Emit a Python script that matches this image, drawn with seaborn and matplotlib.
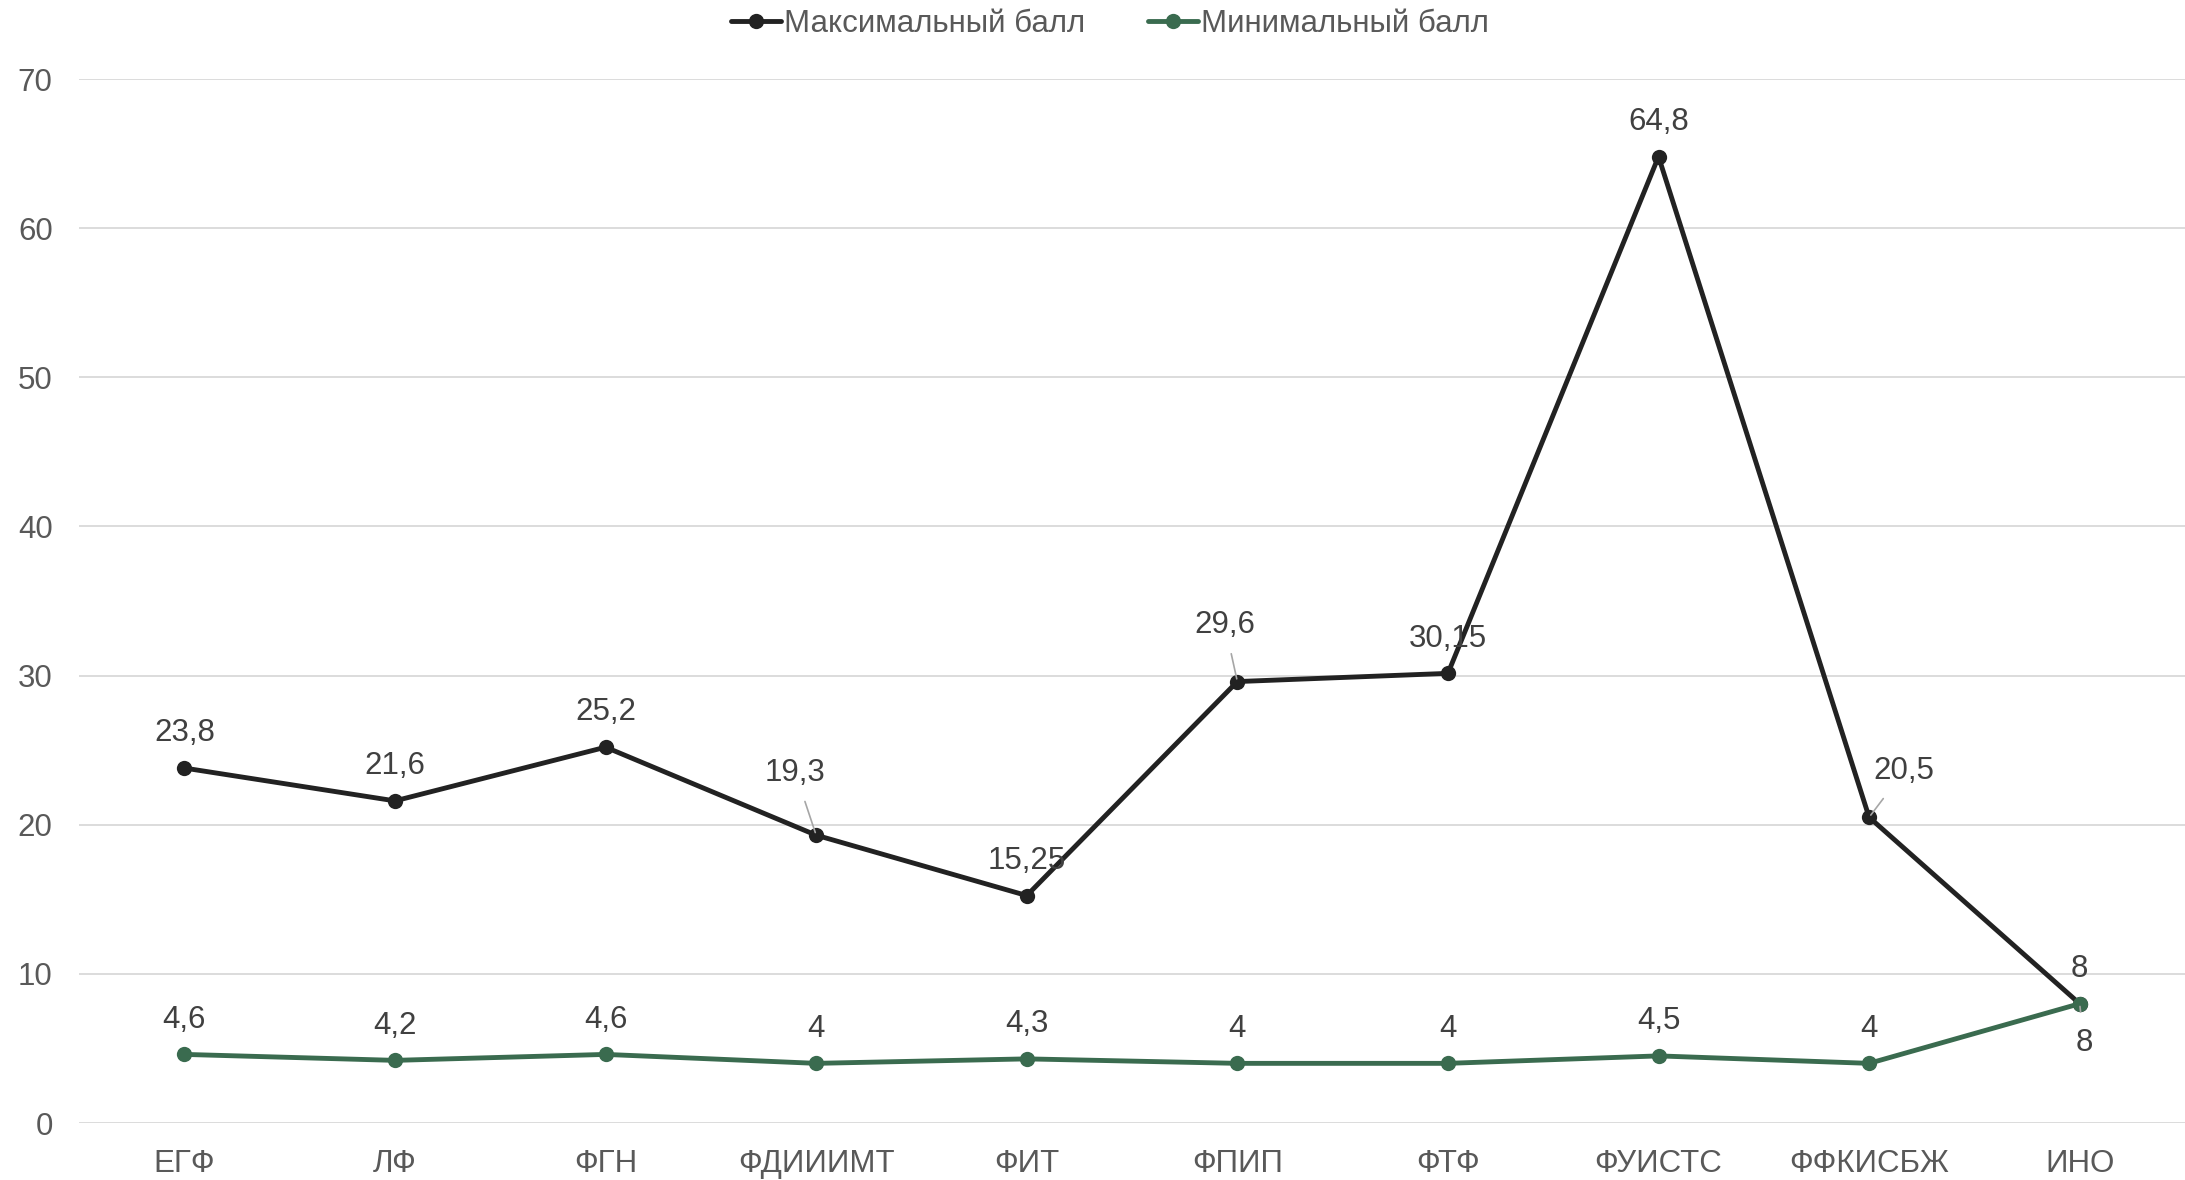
import numpy as np
import pandas as pd
import matplotlib
matplotlib.use("Agg")
import matplotlib.pyplot as plt
import seaborn as sns

# data
faculties = ["ЕГФ", "ЛФ", "ФГН", "ФДИИИМТ", "ФИТ", "ФПИП", "ФТФ", "ФУИСТС", "ФФКИСБЖ", "ИНО"]
max_score = [23.8, 21.6, 25.2, 19.3, 15.25, 29.6, 30.15, 64.8, 20.5, 8]
min_score = [4.6, 4.2, 4.6, 4, 4.3, 4, 4, 4.5, 4, 8]
series_names = ["Максимальный балл", "Минимальный балл"]
y_ticks = [0, 10, 20, 30, 40, 50, 60, 70]

sns.set_style("white")
plt.rcParams['font.family'] = ['Liberation Sans', 'DejaVu Sans']

df = pd.DataFrame({
    "Факультет": faculties * 2,
    "Балл": max_score + min_score,
    "Серия": [series_names[0]] * len(faculties) + [series_names[1]] * len(faculties),
})

colors = {series_names[0]: "#222222", series_names[1]: "#3a6b4f"}
FS = 22.5

fig = plt.figure(figsize=(21.85, 11.8), dpi=100)
ax = fig.add_axes([0.0362, 0.0483, 0.9638, 0.8847])

for name in series_names:
    sub = df[df["Серия"] == name]
    sns.lineplot(data=sub, x="Факультет", y="Балл", ax=ax, color=colors[name],
                 marker="o", markersize=11, markeredgewidth=0, linewidth=3.5,
                 sort=False, label=name, legend=False)

ax.set_xlim(-0.5, len(faculties) - 0.5)
ax.set_ylim(0, 70)
ax.set_yticks(y_ticks)
ax.set_xlabel("")
ax.set_ylabel("")
for s in ax.spines.values():
    s.set_visible(False)
ax.grid(axis="y", color="#d9d9d9", linewidth=1.3)
ax.set_axisbelow(True)
ax.tick_params(axis="both", length=0, labelsize=FS, labelcolor="#595959")
ax.tick_params(axis="y", pad=19)
ax.tick_params(axis="x", pad=19)

def fmt(v):
    return ("%g" % v).replace(".", ",")

# label offsets in points (default: straight above)
max_offsets = {3: (-15, -45), 5: (-9, -41), 8: (25, -33)}
min_offsets = {9: (3, 28)}

for i, v in enumerate(max_score):
    dx, dy = max_offsets.get(i, (0, -25))
    leader = i in max_offsets
    ax.annotate(fmt(v), (i, v), xytext=(dx, -dy), textcoords="offset points",
                ha="center", va="center", fontsize=FS, color="#404040",
                arrowprops=dict(arrowstyle="-", color="#a6a6a6", lw=1.2,
                                shrinkA=8, shrinkB=2) if leader else None)
for i, v in enumerate(min_score):
    dx, dy = min_offsets.get(i, (0, -25))
    leader = i in min_offsets
    ax.annotate(fmt(v), (i, v), xytext=(dx, -dy), textcoords="offset points",
                ha="center", va="center", fontsize=FS, color="#404040",
                arrowprops=dict(arrowstyle="-", color="#a6a6a6", lw=1.2,
                                shrinkA=9, shrinkB=2) if leader else None)

handles, labels = ax.get_legend_handles_labels()
fig.legend(handles, labels, loc="upper center", bbox_to_anchor=(0.508, 1.016),
           ncol=2, frameon=False, fontsize=FS, labelcolor="#595959",
           handlelength=1.6, handletextpad=0.1, columnspacing=2.0)

fig.savefig("out.png", dpi=100)
